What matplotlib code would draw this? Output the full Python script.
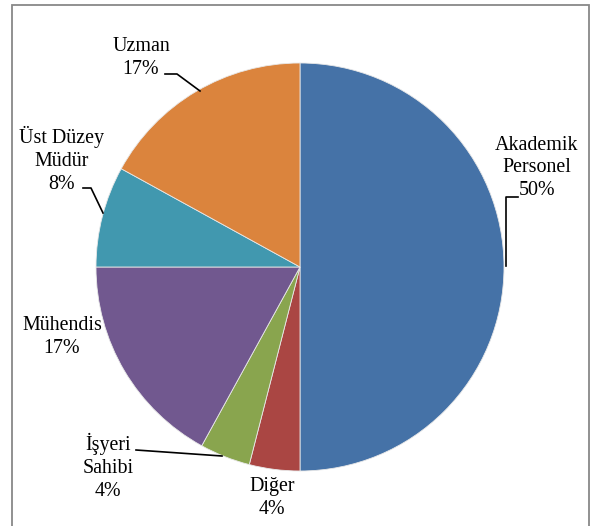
import matplotlib
matplotlib.use("Agg")
import matplotlib.pyplot as plt
from matplotlib.patches import Rectangle

categories = ["Akademik\nPersonel", "Diğer", "İşyeri\nSahibi", "Mühendis",
              "Üst Düzey\nMüdür", "Uzman"]
shares = [50, 4, 4, 17, 8, 17]
colors = ["#4572A7", "#AA4643", "#89A54E", "#71588F", "#4198AF", "#DB843D"]

W, H = 594, 526
CX, CY, R = 300, 267, 204          # pie centre / radius in pixels


def px(x, y):
    """pixel (from top-left) -> data coords, pie radius = 1"""
    return (x - CX) / R, (CY - y) / R


# label centres and leader polylines (pixels)
label_pos = [(537, 168), (272, 498), (108, 467), (62, 337), (62, 160), (141, 58)]
leaders = [[(518, 197), (506, 197), (506, 266)],
           None,
           [(136, 450), (222, 456)],
           None,
           [(83, 188), (91, 188), (103, 213)],
           [(165, 74), (177, 74), (200, 91)]]

plt.rcParams["font.family"] = ["Liberation Serif", "DejaVu Serif"]
fig = plt.figure(figsize=(W / 100, H / 100), dpi=100)
ax = fig.add_axes([0, 0, 1, 1])
ax.pie(shares, colors=colors, startangle=90, counterclock=False, radius=1,
       wedgeprops=dict(edgecolor="#e8e8e8", linewidth=0.6))

for cat, v, (lx, ly), ld in zip(categories, shares, label_pos, leaders):
    x, y = px(lx, ly)
    ax.text(x, y, "%s\n%d%%" % (cat, v), ha="center", va="center",
            fontsize=14.4, linespacing=1.27, color="black")
    if ld:
        xs, ys = zip(*[px(a, b) for a, b in ld])
        ax.plot(xs, ys, color="black", lw=1.2)

x0, y0 = px(0, H)
x1, y1 = px(W, 0)
ax.set_xlim(x0, x1)
ax.set_ylim(y0, y1)
ax.set_aspect("equal")
ax.axis("off")

# chart-area frame
fig.patches.append(Rectangle((12 / W, -0.05), (589 - 12) / W, (H - 5) / H + 0.05,
                             transform=fig.transFigure, fill=False,
                             edgecolor="#888888", linewidth=1.3))

fig.savefig("out.png", dpi=100)
